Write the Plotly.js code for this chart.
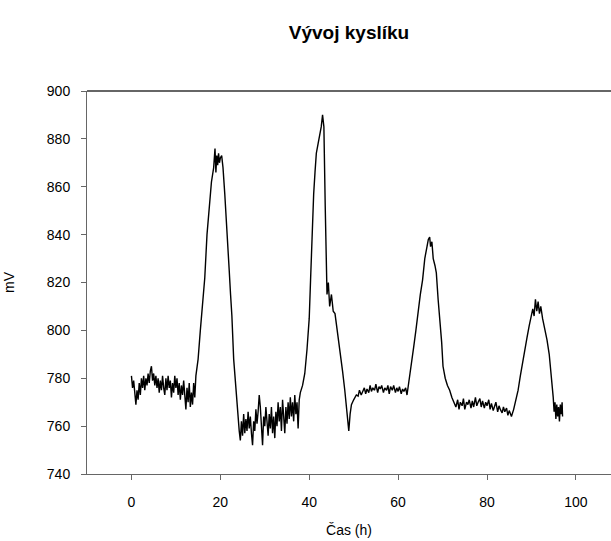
<!DOCTYPE html>
<html>
<head>
<meta charset="utf-8">
<script src="https://cdn.plot.ly/plotly-3.0.1.min.js"></script>
<style>html,body{margin:0;padding:0;background:#fff;}#chart{width:611px;height:541px;}</style>
</head>
<body>
<div id="chart"></div>
<script>
// Time (h)
const hours = [
  0,0.25,0.5,0.75,1,1.25,1.5,1.75,2,2.25,2.5,2.75,3,3.25,3.5,3.75,4,4.25,4.5,4.75,
  5,5.25,5.5,5.75,6,6.25,6.5,6.75,7,7.25,7.5,7.75,8,8.25,8.5,8.75,9,9.25,9.5,9.75,
  10,10.25,10.5,10.75,11,11.25,11.5,11.75,12,12.25,12.5,12.75,13,13.25,13.5,13.75,14,14.25,14.5,
  15,15.5,16,16.5,17,17.5,18,18.5,18.8,19,19.2,19.4,19.6,19.8,20,20.3,20.6,21,21.5,22,22.3,22.6,23,23.5,24,
  24.25,24.5,24.75,25,25.25,25.5,25.75,26,26.25,26.5,26.75,27,27.25,27.5,27.75,28,28.25,28.5,28.75,29,
  29.25,29.5,29.75,30,30.25,30.5,30.75,31,31.25,31.5,31.75,32,32.25,32.5,32.75,33,33.25,33.5,33.75,34,
  34.25,34.5,34.75,35,35.25,35.5,35.75,36,36.25,36.5,36.75,37,37.25,37.5,37.75,38,
  38.5,39,39.5,40,40.3,40.6,41,41.3,41.6,42,42.4,42.7,43,43.3,43.6,43.8,44,44.3,44.6,45,45.4,45.8,
  46.3,46.9,47.5,48,48.5,48.9,49.2,49.5,50,50.6,
  51,51.3,51.7,52,52.4,52.7,53,53.4,53.7,54,54.3,54.7,55,55.4,55.7,56,56.3,56.7,57,57.4,57.7,58,58.3,58.7,
  59,59.4,59.7,60,60.3,60.7,61,61.3,61.7,62,
  62.5,63,63.5,64,64.5,65,65.5,66,66.5,66.8,67.1,67.3,67.6,67.9,68.3,68.6,69,69.5,69.8,70.1,70.6,71.1,71.6,72.1,72.5,73,
  73.4,73.7,74,74.4,74.7,75,75.4,75.7,76,76.4,76.7,77,77.4,77.7,78,78.4,78.7,79,79.4,79.7,80,80.4,80.7,
  81,81.4,81.7,82,82.4,82.7,83,83.4,83.7,84,84.4,84.7,85,85.5,86,
  86.5,87,87.5,88,88.5,89,89.5,90,90.3,90.6,90.9,91.2,91.5,91.8,92.1,92.5,93,93.5,94,94.5,94.9,
  95.1,95.3,95.5,95.7,95.9,96.1,96.3,96.5,96.7,96.9,97
];
// Oxygen electrode potential (mV)
const millivolts = [
  781,776,779,772,769,775,771,778,773,780,776,781,775,780,777,782,778,783,785,779,
  782,777,781,776,780,774,779,775,781,776,773,780,775,781,776,779,772,778,774,781,
  776,780,773,778,771,777,773,779,772,767,776,770,778,768,774,769,778,772,781,
  788,800,812,822,840,851,862,868,876,866,873,869,874,870,872,873,868,857,843,825,815,806,788,775,763,
  758,754,762,756,765,757,763,758,766,759,764,757,752,762,758,767,761,766,773,768,
  760,752,764,760,768,762,756,765,759,768,757,764,755,766,760,770,762,768,758,771,
  763,757,768,761,770,763,772,764,770,762,773,765,770,759,771,774,
  777,782,792,805,821,838,857,866,874,878,882,885,890,885,852,822,815,820,810,815,808,807,
  800,793,783,775,766,758,765,769,771,773,
  772.5,775,773,774.5,776,773.5,775.5,774,777,774.5,776,775,777.5,774,776.5,775.5,777,774,776,775,777,773.5,776.5,775,
  777,774,776,774.5,776.5,773.5,775.5,774.5,776,773,
  779,786,793,800,808,815,821,830,835,838,839,835,837,830,827,824,813,803,795,785,780,777,775,772,770,768,
  771,767,770,768.5,771.5,767,770,769,771,767.5,770.5,768,772,768.5,770,771.5,768,770.5,767.5,770,768.5,771,767,
  769.5,766.5,768,770,766,768.5,767,765.5,768,766,767.5,764.5,766.5,764,767,771,
  775,781,787,792,797,802,806,809,806,813,808,812,807,810,805,801,796,790,781,772,766,
  770,763,769,764,768,762,769,765,770,764,767
];
const xTicks = [0, 20, 40, 60, 80, 100];
const yTicks = [740, 760, 780, 800, 820, 840, 860, 880, 900];

const FONT = 'Liberation Sans, Arial, sans-serif';
const axisGrey = '#666666';

const trace = {
  x: hours, y: millivolts, type: 'scatter', mode: 'lines',
  line: {color: '#000000', width: 1.4},
  hoverinfo: 'skip'
};

const layout = {
  width: 611, height: 541,
  paper_bgcolor: '#ffffff', plot_bgcolor: '#ffffff',
  margin: {l: 87, r: 0, t: 91, b: 67, pad: 0},
  showlegend: false,
  font: {family: FONT, color: '#000000', size: 14},
  title: {
    text: '<b>Vývoj kyslíku</b>',
    font: {family: FONT, size: 19, color: '#000000'},
    xref: 'paper', x: 0.5, xanchor: 'center',
    yref: 'container', y: 1 - 32 / 541, yanchor: 'middle'
  },
  xaxis: {
    range: [-10, 107.9], tickvals: xTicks, ticktext: xTicks.map(String),
    showgrid: false, zeroline: false, showline: true, linecolor: axisGrey, linewidth: 1,
    ticks: 'outside', ticklen: 5, tickcolor: axisGrey, tickwidth: 1,
    tickfont: {family: FONT, size: 14, color: '#000000'},
    ticklabelstandoff: 10,
    automargin: false,
    title: {text: 'Čas (h)', font: {family: FONT, size: 14, color: '#000000'}, standoff: 16}
  },
  yaxis: {
    range: [740, 900], tickvals: yTicks, ticktext: yTicks.map(String),
    showgrid: false, zeroline: false, showline: true, linecolor: axisGrey, linewidth: 1,
    ticks: 'outside', ticklen: 5, tickcolor: axisGrey, tickwidth: 1,
    tickfont: {family: FONT, size: 14, color: '#000000'},
    ticklabelstandoff: 8,
    automargin: false,
    title: {text: 'mV', font: {family: FONT, size: 14, color: '#000000'}, standoff: 28}
  },
  shapes: [{
    type: 'line', xref: 'paper', yref: 'paper', x0: 0, x1: 1, y0: 1, y1: 1,
    line: {color: axisGrey, width: 2}
  }]
};

Plotly.newPlot('chart', [trace], layout, {staticPlot: true, displayModeBar: false});
</script>
</body>
</html>
